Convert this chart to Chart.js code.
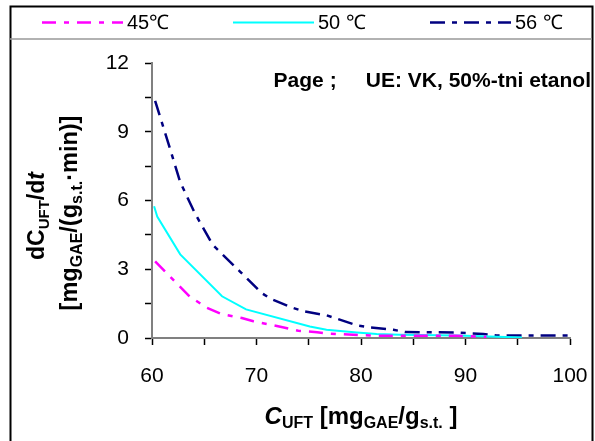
<!DOCTYPE html>
<html>
<head>
<meta charset="utf-8">
<script src="https://cdn.jsdelivr.net/npm/chart.js@4"></script>
<style>
  body { margin: 0; background: #fff; }
  canvas { display: block; }
</style>
</head>
<body>
<canvas id="rateChart" width="595" height="441" style="width:595px;height:441px"></canvas>
<script>
// Series labels
const seriesNames = ['45\u2103', '50 \u2103', '56 \u2103'];

// 45 C
const conc45 = [60.3, 63.6, 65.2, 66.6, 68.6, 69.7, 72.5, 74.0, 75.8, 77.0, 81.2, 89.0, 92.0];
const rate45 = [3.34, 1.81, 1.33, 1.05, 0.87, 0.73, 0.47, 0.32, 0.25, 0.19, 0.10, 0.10, 0.05];

// 50 C
const conc50 = [60.2, 60.5, 62.7, 66.7, 69.0, 75.1, 76.7, 79.6, 81.5, 83.7, 89.2, 95.4];
const rate50 = [5.75, 5.30, 3.65, 1.82, 1.25, 0.50, 0.36, 0.24, 0.17, 0.14, 0.11, 0.02];

// 56 C
const conc56 = [60.3, 61.7, 62.7, 64.1, 65.8, 68.4, 70.5, 71.4, 73.5, 74.6, 76.7, 77.7, 79.7, 80.9, 83.1, 84.2, 89.0, 91.7, 93.0, 100.2];
const rate56 = [10.35, 8.30, 6.80, 5.45, 4.07, 2.91, 1.96, 1.70, 1.31, 1.16, 0.99, 0.84, 0.54, 0.46, 0.36, 0.26, 0.24, 0.17, 0.11, 0.11];

const noteText = 'Page ;     UE: VK, 50%-tni etanol';

const FONT = '"Liberation Sans", Arial, sans-serif';

function pairs(xs, ys) {
    return xs.map((x, i) => ({ x: x, y: ys[i] }));
}

// draw text made of parts, some of them subscripts
function drawRich(ctx, parts, x, y, size) {
    let widths = parts.map(p => {
        ctx.font = fontFor(p, size);
        return ctx.measureText(p.t).width;
    });
    let total = widths.reduce((a, b) => a + b, 0);
    let cx = x - total / 2;
    parts.forEach((p, i) => {
        ctx.font = fontFor(p, size);
        ctx.fillText(p.t, cx, p.sub ? y + size * 0.28 : y);
        cx += widths[i];
    });
}

function fontFor(p, size) {
    let s = p.sub ? Math.round(size * 0.66) : size;
    return (p.italic ? 'italic ' : '') + 'bold ' + s + 'px ' + FONT;
}

const extrasPlugin = {
    id: 'extras',
    afterDraw(chart) {
        const ctx = chart.ctx;
        ctx.save();

        // outer frame
        ctx.strokeStyle = '#000';
        ctx.lineWidth = 2;
        ctx.beginPath();
        ctx.moveTo(10.5, 442);
        ctx.lineTo(10.5, 6.5);
        ctx.lineTo(592.5, 6.5);
        ctx.lineTo(592.5, 442);
        ctx.stroke();
        ctx.strokeStyle = '#999';
        ctx.lineWidth = 1.5;
        ctx.beginPath();
        ctx.moveTo(10, 39);
        ctx.lineTo(592, 39);
        ctx.stroke();

        // legend
        const legendX = [42, 233, 430];
        chart.data.datasets.forEach((ds, i) => {
            ctx.strokeStyle = ds.borderColor;
            ctx.lineWidth = ds.borderWidth;
            ctx.setLineDash(ds.borderDash || []);
            ctx.beginPath();
            ctx.moveTo(legendX[i], 22.5);
            ctx.lineTo(legendX[i] + 81, 22.5);
            ctx.stroke();
            ctx.setLineDash([]);
            ctx.fillStyle = '#000';
            ctx.font = '20px ' + FONT;
            ctx.textAlign = 'left';
            ctx.textBaseline = 'middle';
            ctx.fillText(ds.label, legendX[i] + 85, 23);
        });

        // note
        ctx.fillStyle = '#000';
        ctx.font = 'bold 21px ' + FONT;
        ctx.textAlign = 'right';
        ctx.textBaseline = 'middle';
        ctx.fillText(noteText, 591, 81);

        // axis titles
        ctx.textAlign = 'left';
        ctx.textBaseline = 'middle';
        drawRich(ctx, [
            { t: 'C', italic: true }, { t: 'UFT', sub: true },
            { t: ' [mg' }, { t: 'GAE', sub: true }, { t: '/g' }, { t: 's.t.', sub: true }, { t: ' ]' }
        ], 361, 417, 24);

        ctx.save();
        ctx.translate(38, 216);
        ctx.rotate(-Math.PI / 2);
        drawRich(ctx, [
            { t: 'd' }, { t: 'C' }, { t: 'UFT', sub: true }, { t: '/d' }, { t: 't', italic: true }
        ], 0, 0, 23);
        ctx.restore();

        ctx.save();
        ctx.translate(71, 213);
        ctx.rotate(-Math.PI / 2);
        drawRich(ctx, [
            { t: '[mg' }, { t: 'GAE', sub: true }, { t: '/(g' }, { t: 's.t.', sub: true }, { t: '\u00b7min)]' }
        ], 0, 0, 23.5);
        ctx.restore();

        ctx.restore();
    }
};

let ctx = document.getElementById('rateChart').getContext('2d');
let rateChart = new Chart(ctx, {
    type: 'scatter',
    data: {
        datasets: [{
            label: seriesNames[0],
            data: pairs(conc45, rate45),
            borderColor: '#FF00FF',
            borderWidth: 2.5,
            borderDash: [14, 8, 5, 8]
        }, {
            label: seriesNames[1],
            data: pairs(conc50, rate50),
            borderColor: '#00FFFF',
            borderWidth: 2
        }, {
            label: seriesNames[2],
            data: pairs(conc56, rate56),
            borderColor: '#000080',
            borderWidth: 2.5,
            borderDash: [15, 7, 5, 7]
        }]
    },
    options: {
        responsive: false,
        animation: false,
        devicePixelRatio: 1,
        showLine: true,
        elements: {
            point: { radius: 0, hoverRadius: 0 },
            line: { tension: 0, fill: false }
        },
        layout: { padding: { left: 0, top: 63, right: 25, bottom: 0 } },
        plugins: {
            legend: { display: false },
            tooltip: { enabled: false }
        },
        scales: {
            x: {
                type: 'linear',
                min: 60,
                max: 100,
                afterFit: (s) => { s.height = 103; s.paddingLeft = 0; s.paddingRight = 0; },
                ticks: {
                    stepSize: 5,
                    autoSkip: false,
                    maxRotation: 0,
                    padding: 19,
                    color: '#000',
                    font: { family: FONT, size: 21 },
                    callback: (v) => (v % 10 === 0 ? v : '')
                },
                grid: {
                    drawOnChartArea: false,
                    tickLength: 7,
                    tickColor: '#000',
                    tickWidth: 1.5
                },
                border: { color: '#808080', width: 2 }
            },
            y: {
                min: 0,
                max: 12,
                afterFit: (s) => { s.width = 152; s.paddingTop = 0; s.paddingBottom = 0; },
                ticks: {
                    stepSize: 1.5,
                    autoSkip: false,
                    padding: 16,
                    color: '#000',
                    font: { family: FONT, size: 21 },
                    callback: (v) => (v % 3 === 0 ? v : '')
                },
                grid: {
                    drawOnChartArea: false,
                    tickLength: 7,
                    tickColor: '#000',
                    tickWidth: 1.5
                },
                border: { color: '#808080', width: 2 }
            }
        }
    },
    plugins: [extrasPlugin]
});
</script>
</body>
</html>
